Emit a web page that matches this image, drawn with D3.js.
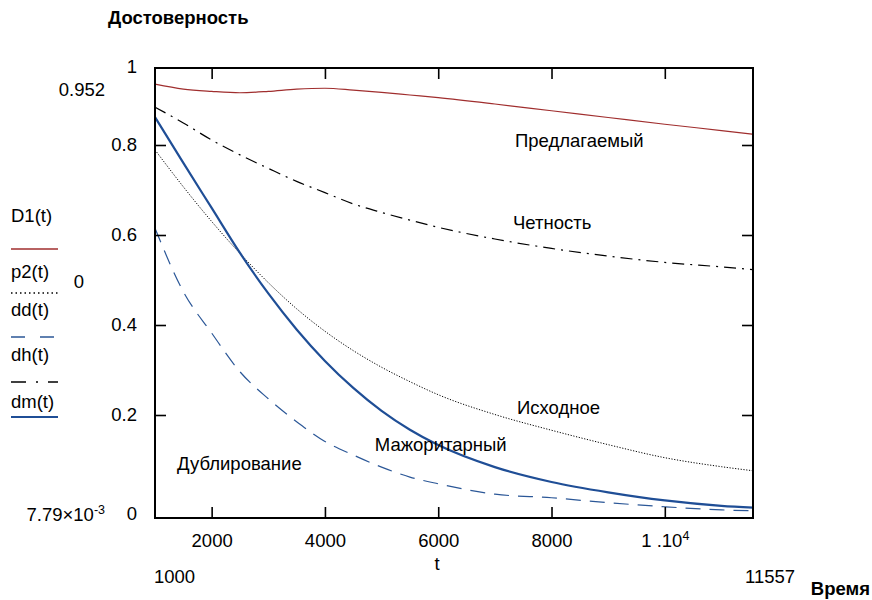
<!DOCTYPE html>
<html>
<head>
<meta charset="utf-8">
<script src="https://cdn.jsdelivr.net/npm/d3@7"></script>
<style>
body { margin: 0; background: #fff; }
svg { font-family: "Liberation Sans", Arial, sans-serif; }
</style>
</head>
<body>
<svg id="svg" width="872" height="600"></svg>
<script>
// время t и значения кривых
var tGrid    = [1000, 1500, 2000, 2500, 3000, 3500, 4000, 4500, 5000, 5500, 6000, 7000, 8000, 9000, 10000, 11000, 11557];
var valuesD1 = [0.964, 0.953, 0.948, 0.945, 0.948, 0.953, 0.955, 0.951, 0.946, 0.940, 0.934, 0.920, 0.905, 0.890, 0.875, 0.861, 0.853];
var valuesP2 = [0.818, 0.736, 0.659, 0.588, 0.523, 0.465, 0.415, 0.372, 0.335, 0.303, 0.274, 0.230, 0.195, 0.163, 0.134, 0.114, 0.105];
var valuesDD = [0.644, 0.503, 0.411, 0.325, 0.265, 0.214, 0.170, 0.140, 0.113, 0.091, 0.076, 0.053, 0.045, 0.034, 0.025, 0.018, 0.016];
var valuesDH = [0.913, 0.878, 0.840, 0.807, 0.777, 0.748, 0.723, 0.698, 0.679, 0.662, 0.646, 0.620, 0.599, 0.582, 0.568, 0.558, 0.552];
var valuesDM = [0.891, 0.789, 0.689, 0.589, 0.499, 0.419, 0.349, 0.289, 0.238, 0.196, 0.162, 0.113, 0.080, 0.057, 0.039, 0.027, 0.023];

var xTicks = [2000, 4000, 6000, 8000, 10000];
var yTicks = [0.2, 0.4, 0.6, 0.8];
var xLimits = [1000, 11557];
var yLimits = [0, 1];
var yMarkers = [0.952, 0.00779];

var legendNames = ["D1(t)", "p2(t)", "dd(t)", "dh(t)", "dm(t)"];
var curveNames = ["Предлагаемый", "Исходное", "Дублирование", "Четность", "Мажоритарный"];
// где стоят подписи кривых (t, значение)
var curveLabelT = [7355, 7390, 1390, 7320, 4880];
var curveLabelV = [0.838, 0.245, 0.121, 0.656, 0.164];

var svg = d3.select("#svg");
var padding = {top: 68, right: 119, bottom: 82, left: 155};
var W = 872, H = 600;
var fontSize = 18.5;

var xScale = d3.scaleLinear().domain(xLimits).range([padding.left, W - padding.right]);
var yScale = d3.scaleLinear().domain(yLimits).range([H - padding.bottom, padding.top]);
// в Mathcad метки оси Y сдвинуты вверх относительно кривых
var yTickScale = yScale.copy().range([H - padding.bottom - 13, padding.top - 13]);

var series = [
  {values: valuesD1, color: "#a02e2e", width: 1.2, dash: null, legendDash: null},
  {values: valuesP2, color: "#000", width: 1, dash: "1.2,1.6", legendDash: "1.5,3"},
  {values: valuesDD, color: "#2b5797", width: 1.2, dash: "15,9", legendDash: "14,15"},
  {values: valuesDH, color: "#000", width: 1.2, dash: "12,6,2,6", legendDash: "15,10,2,10"},
  {values: valuesDM, color: "#1f4e96", width: 2.2, dash: null, legendDash: null}
];

// кривые
var line = d3.line()
  .x(function (d, i) { return xScale(tGrid[i]); })
  .y(function (d) { return yScale(d); })
  .curve(d3.curveMonotoneX);

var plot = svg.append("g");
plot.selectAll("path.curve").data(series).enter()
  .append("path")
  .attr("class", "curve")
  .attr("d", function (s) { return line(s.values); })
  .attr("fill", "none")
  .attr("stroke", function (s) { return s.color; })
  .attr("stroke-width", function (s) { return s.width; })
  .attr("stroke-dasharray", function (s) { return s.dash; });

// рамка
svg.append("rect")
  .attr("x", padding.left)
  .attr("y", padding.top)
  .attr("width", W - padding.left - padding.right)
  .attr("height", H - padding.top - padding.bottom)
  .attr("fill", "none")
  .attr("stroke", "#000")
  .attr("stroke-width", 2);

// оси
var xAxis = svg.append("g")
  .attr("transform", "translate(0," + (H - padding.bottom) + ")")
  .call(d3.axisBottom(xScale).tickValues(xTicks).tickSizeInner(-11).tickSizeOuter(0).tickPadding(16)
    .tickFormat(function (d) { return d >= 10000 ? "1 .10" : d; }));
xAxis.selectAll(".tick text").filter(function (d) { return d >= 10000; })
  .append("tspan").attr("dy", "-0.55em").attr("font-size", 12.5).text("4");

svg.append("g")
  .attr("transform", "translate(0," + padding.top + ")")
  .call(d3.axisTop(xScale).tickValues(xTicks).tickSizeInner(-11).tickSizeOuter(0).tickFormat(""));

svg.append("g")
  .attr("transform", "translate(" + padding.left + ",0)")
  .call(d3.axisLeft(yTickScale).tickValues(yTicks).tickSizeInner(-11).tickSizeOuter(0).tickPadding(18));

svg.append("g")
  .attr("transform", "translate(" + (W - padding.right) + ",0)")
  .call(d3.axisRight(yTickScale).tickValues(yTicks).tickSizeInner(-11).tickSizeOuter(0).tickFormat(""));

svg.selectAll(".domain").remove();
svg.selectAll(".tick line").attr("stroke-width", 1.6);
svg.selectAll(".tick text").attr("font-size", fontSize).attr("font-family", null).attr("fill", "#000");

// пределы осей
svg.selectAll("text.ylim").data(yLimits).enter()
  .append("text")
  .attr("x", padding.left - 18)
  .attr("y", function (d) { return yScale(d) - (d === 0 ? 4 : 1); })
  .attr("dy", "0.35em")
  .attr("text-anchor", "end")
  .attr("font-size", fontSize)
  .text(function (d) { return d; });

svg.selectAll("text.xlim").data(xLimits).enter()
  .append("text")
  .attr("x", function (d, i) { return xScale(d) - (i === 0 ? 1 : 8); })
  .attr("y", H - padding.bottom + 59)
  .attr("dy", "0.35em")
  .attr("font-size", fontSize)
  .text(function (d) { return d; });

// маркеры слева
var markers = svg.selectAll("text.marker").data(yMarkers).enter()
  .append("text")
  .attr("x", padding.left - 50)
  .attr("y", function (d) { return yScale(d); })
  .attr("dy", "0.35em")
  .attr("text-anchor", "end")
  .attr("font-size", fontSize)
  .text(function (d) { return d > 0.1 ? d : "7.79\u00d710"; });
markers.filter(function (d) { return d < 0.1; })
  .append("tspan").attr("dy", "-0.55em").attr("font-size", 12.5).text("-3");

svg.append("text")
  .attr("x", 79).attr("y", 282).attr("dy", "0.35em")
  .attr("text-anchor", "middle").attr("font-size", fontSize)
  .text("0");

// подписи осей
svg.append("text")
  .attr("x", 108).attr("y", 18).attr("dy", "0.35em")
  .attr("font-size", fontSize).attr("font-weight", "bold")
  .text("Достоверность");

svg.append("text")
  .attr("x", 870).attr("y", 589).attr("dy", "0.35em")
  .attr("text-anchor", "end")
  .attr("font-size", fontSize).attr("font-weight", "bold")
  .text("Время");

svg.append("text")
  .attr("x", xScale((xLimits[0] + xLimits[1]) / 2) - 17).attr("y", H - padding.bottom + 46).attr("dy", "0.35em")
  .attr("text-anchor", "middle").attr("font-size", fontSize)
  .text("t");

// подписи кривых
svg.selectAll("text.curveLabel").data(curveNames).enter()
  .append("text")
  .attr("class", "curveLabel")
  .attr("x", function (d, i) { return xScale(curveLabelT[i]); })
  .attr("y", function (d, i) { return yScale(curveLabelV[i]); })
  .attr("dy", "0.35em")
  .attr("font-size", fontSize)
  .text(function (d) { return d; });

// легенда
var legendTextY = [216, 272, 310, 355, 402];
var legendLineY = [249, 293, 337, 382, 417];
var legend = svg.append("g");
legend.selectAll("text").data(legendNames).enter()
  .append("text")
  .attr("x", 11)
  .attr("y", function (d, i) { return legendTextY[i]; })
  .attr("dy", "0.35em")
  .attr("font-size", fontSize)
  .text(function (d) { return d; });
legend.selectAll("line").data(series).enter()
  .append("line")
  .attr("x1", 11).attr("x2", 58)
  .attr("y1", function (d, i) { return legendLineY[i]; })
  .attr("y2", function (d, i) { return legendLineY[i]; })
  .attr("stroke", function (s) { return s.color; })
  .attr("stroke-width", function (s) { return Math.max(1.5, s.width); })
  .attr("stroke-dasharray", function (s) { return s.legendDash; });
</script>
</body>
</html>
